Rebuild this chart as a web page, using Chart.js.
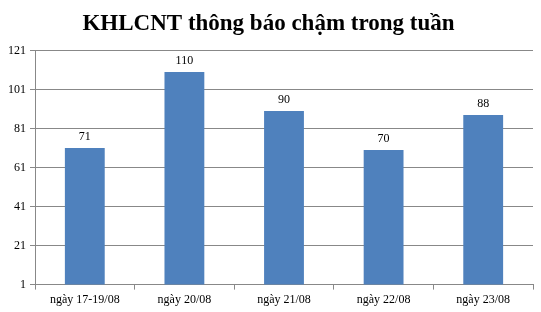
<!DOCTYPE html>
<html>
<head>
<meta charset="utf-8">
<script src="https://cdn.jsdelivr.net/npm/chart.js@4.4.0/dist/chart.umd.min.js"></script>
<style>
  html, body { margin: 0; padding: 0; background: #fff; }
  #khung { width: 541px; height: 312px; }
</style>
</head>
<body>
<div id="khung"><canvas id="bieuDo"></canvas></div>
<script>
const ngay = ['ngày 17-19/08', 'ngày 20/08', 'ngày 21/08', 'ngày 22/08', 'ngày 23/08'];
const soGoiThau = [71, 110, 90, 70, 88];
const mocTruc = [1, 21, 41, 61, 81, 101, 121];

// ghi so lieu tren dau cot
const nhanCot = {
  id: 'nhanCot',
  afterDatasetsDraw(chart) {
    const ctx = chart.ctx;
    const meta = chart.getDatasetMeta(0);
    ctx.save();
    ctx.font = '12px "Liberation Serif", serif';
    ctx.fillStyle = '#000';
    ctx.textAlign = 'center';
    ctx.textBaseline = 'bottom';
    meta.data.forEach((cot, i) => {
      ctx.fillText(soGoiThau[i], cot.x, cot.y - 5);
    });
    ctx.restore();
  }
};

new Chart(document.getElementById('bieuDo'), {
  type: 'bar',
  data: {
    labels: ngay,
    datasets: [{
      data: soGoiThau,
      backgroundColor: '#4F81BD',
      categoryPercentage: 1,
      barPercentage: 0.4,
    }],
  },
  options: {
    animation: false,
    responsive: true,
    maintainAspectRatio: false,
    layout: { padding: { left: 4, right: 8, top: 0, bottom: 2 } },
    plugins: {
      legend: { display: false },
      tooltip: { enabled: false },
      title: {
        display: true,
        text: 'KHLCNT thông báo chậm trong tuần',
        color: '#000',
        font: { family: '"Liberation Serif", serif', size: 23, weight: 'bold' },
        padding: { top: 10, bottom: 13 },
      },
    },
    scales: {
      y: {
        min: mocTruc[0],
        max: mocTruc[mocTruc.length - 1],
        afterBuildTicks(axis) {
          axis.ticks = mocTruc.map(v => ({ value: v }));
        },
        border: { color: '#888' },
        grid: { color: '#888', tickLength: 5 },
        ticks: {
          color: '#000',
          padding: 4,
          font: { family: '"Liberation Serif", serif', size: 12 },
        },
      },
      x: {
        border: { color: '#888' },
        grid: { drawOnChartArea: false, color: '#888', tickLength: 5, offset: true },
        ticks: {
          color: '#000',
          padding: 3,
          font: { family: '"Liberation Serif", serif', size: 12 },
        },
      },
    },
  },
  plugins: [nhanCot],
});
</script>
</body>
</html>
